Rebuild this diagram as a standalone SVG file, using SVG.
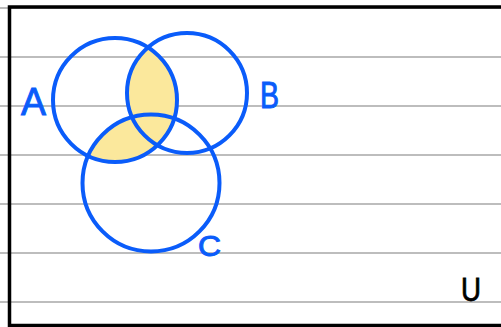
<svg xmlns="http://www.w3.org/2000/svg" width="501" height="327" viewBox="0 0 501 327">
<style>
.rule{stroke:#bdbdbd;stroke-width:2}
.set{fill:none;stroke:#0a5cfa;stroke-width:4}
.lbl{font-family:"Liberation Sans",Arial,sans-serif;fill:#0a5cfa;stroke:#0a5cfa;stroke-width:1}
</style>
<defs>
<clipPath id="clipA"><circle cx="115" cy="100" r="62"/></clipPath>
</defs>
<rect width="501" height="327" fill="#fff"/>
<g id="rules">
<line class="rule" x1="0" y1="8" x2="501" y2="8"/>
<line class="rule" x1="0" y1="57" x2="501" y2="57"/>
<line class="rule" x1="0" y1="106" x2="501" y2="106"/>
<line class="rule" x1="0" y1="155" x2="501" y2="155"/>
<line class="rule" x1="0" y1="204" x2="501" y2="204"/>
<line class="rule" x1="0" y1="253" x2="501" y2="253"/>
<line class="rule" x1="0" y1="302" x2="501" y2="302"/>
</g>
<g id="frame">
<path d="M501 7 H9.5 V325.5 H501" fill="none" stroke="#000" stroke-width="3.5"/>
</g>
<g id="shading" clip-path="url(#clipA)" fill="#fbe89c">
<circle cx="187" cy="93" r="60"/>
<circle cx="151" cy="183" r="68.5"/>
</g>
<g id="setA">
<circle class="set" cx="115" cy="100" r="62"/>
<text class="lbl" x="21" y="115" font-size="39" textLength="25" lengthAdjust="spacingAndGlyphs">A</text>
</g>
<g id="setB">
<circle class="set" cx="187" cy="93" r="60"/>
<text class="lbl" x="260" y="108" font-size="37" textLength="19" lengthAdjust="spacingAndGlyphs">B</text>
</g>
<g id="setC">
<circle class="set" cx="151" cy="183" r="68.5"/>
<text class="lbl" x="198" y="256" font-size="30" textLength="23" lengthAdjust="spacingAndGlyphs">C</text>
</g>
<g id="universe">
<text x="461" y="301" font-family="Liberation Sans,Arial,sans-serif" font-size="33" fill="#000" stroke="#000" stroke-width="0.8" textLength="20" lengthAdjust="spacingAndGlyphs">U</text>
</g>
</svg>
